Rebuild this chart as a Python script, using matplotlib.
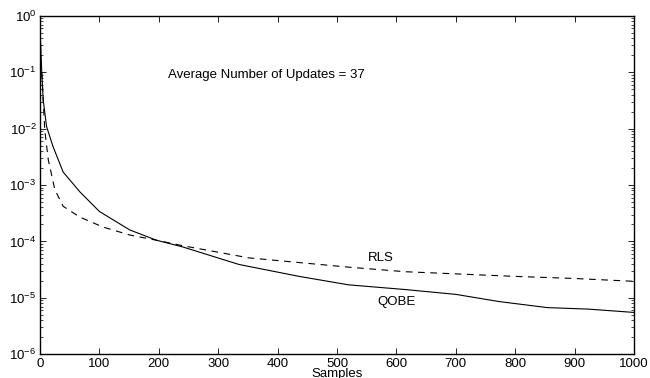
import matplotlib
matplotlib.use("Agg")
import matplotlib.pyplot as plt
from matplotlib.ticker import LogLocator, MultipleLocator
import numpy as np

plt.rcParams['font.family'] = ['Liberation Sans', 'DejaVu Sans']

# QOBE (solid)
qobe_n = [1, 3, 5.5, 11, 22, 39, 67, 100, 151, 196, 240, 335, 436, 519, 615, 700, 772, 854, 923, 1000]
qobe_e = [0.35, 0.1, 0.032, 0.011, 4.8e-3, 1.7e-3, 7.6e-4, 3.4e-4, 1.6e-4, 1.05e-4,
          8.0e-5, 3.9e-5, 2.4e-5, 1.7e-5, 1.4e-5, 1.15e-5, 8.6e-6, 6.7e-6, 6.3e-6, 5.5e-6]

# RLS (dashed)
rls_n = [3, 5, 8, 14, 25, 39, 67, 106, 151, 196, 240, 352, 519, 615, 799, 900, 1000]
rls_e = [0.1, 0.04, 9.5e-3, 2.8e-3, 8.3e-4, 4.2e-4, 2.7e-4, 1.8e-4, 1.3e-4, 1.05e-4,
         8.4e-5, 5.1e-5, 3.5e-5, 2.9e-5, 2.4e-5, 2.2e-5, 1.96e-5]

fs = 9.5

fig = plt.figure(figsize=(6.5, 3.78), dpi=100)
ax = fig.add_axes([0.0615, 0.063, 0.914, 0.895])

ax.semilogy(qobe_n, qobe_e, color="k", lw=0.8)
ax.semilogy(rls_n, rls_e, color="k", lw=0.8, linestyle=(0, (6, 5)))

ax.set_xlim(0, 1000)
ax.set_ylim(1e-6, 1)
ax.xaxis.set_major_locator(MultipleLocator(100))
ax.yaxis.set_major_locator(LogLocator(base=10, numticks=10))
ax.yaxis.set_minor_locator(LogLocator(base=10, subs=np.arange(2, 10), numticks=10))

ax.tick_params(which="both", direction="in", top=True, right=True, labelsize=fs, pad=2.5)
ax.tick_params(which="major", length=4.5, width=0.6)
ax.tick_params(which="minor", length=2.2, width=0.5)
for s in ax.spines.values():
    s.set_linewidth(1.0)

ax.set_xlabel("Samples", fontsize=fs, labelpad=-1)

ax.text(215, 0.089, "Average Number of Updates = 37", fontsize=fs, va="center", ha="left")
ax.text(574, 5.1e-5, "RLS", fontsize=fs, va="center", ha="center")
ax.text(600, 8.3e-6, "QOBE", fontsize=fs, va="center", ha="center")

fig.savefig("out.png", dpi=100)
